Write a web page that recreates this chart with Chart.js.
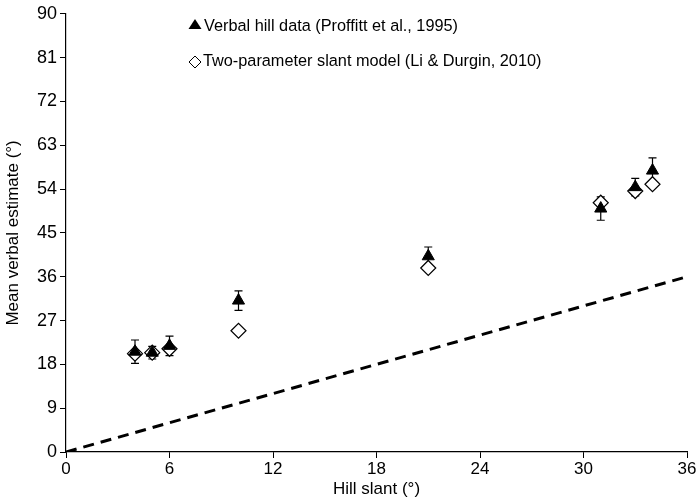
<!DOCTYPE html>
<html>
<head>
<meta charset="utf-8">
<script src="https://cdn.jsdelivr.net/npm/chart.js@4/dist/chart.umd.min.js"></script>
<style>
  html, body { margin: 0; padding: 0; background: #fff; }
  #wrap { width: 700px; height: 501px; }
</style>
</head>
<body>
<div id="wrap"><canvas id="chart" width="700" height="501"></canvas></div>
<script>
// hill slants and mean estimates
const slants = [4, 5, 6, 10, 21, 31, 33, 34];
const verbal = [20.6, 20.4, 21.8, 31.1, 40.2, 50.0, 54.4, 57.8];
const verbalErr = [2.4, 1.3, 2.0, 2.0, 1.9, 2.4, 1.8, 2.6];
const model = [20.2, 20.4, 21.2, 24.9, 37.8, 51.2, 53.6, 55.0];
const unityX = [0, 36];
const xTicks = [0, 6, 12, 18, 24, 30, 36];
const yTicks = [0, 9, 18, 27, 36, 45, 54, 63, 72, 81, 90];

const legendLabels = ['Verbal hill data (Proffitt et al., 1995)', 'Two-parameter slant model (Li & Durgin, 2010)'];

const fontFam = '"Liberation Sans", Arial, sans-serif';

// error bars drawn under the markers
const errorBars = {
    id: 'errorBars',
    beforeDatasetsDraw(chart) {
        const ctx = chart.ctx;
        const xs = chart.scales.x, ys = chart.scales.y;
        ctx.save();
        ctx.strokeStyle = '#000';
        ctx.lineWidth = 1.2;
        slants.forEach((s, i) => {
            const px = xs.getPixelForValue(s);
            const top = ys.getPixelForValue(verbal[i] + verbalErr[i]);
            const bot = ys.getPixelForValue(verbal[i] - verbalErr[i]);
            ctx.beginPath();
            ctx.moveTo(px, top); ctx.lineTo(px, bot);
            ctx.moveTo(px - 4, top); ctx.lineTo(px + 4, top);
            ctx.moveTo(px - 4, bot); ctx.lineTo(px + 4, bot);
            ctx.stroke();
        });
        ctx.restore();
    }
};

// legend inside the plot area
const innerLegend = {
    id: 'innerLegend',
    afterDraw(chart) {
        const ctx = chart.ctx;
        ctx.save();
        ctx.font = '16.3px ' + fontFam;
        ctx.fillStyle = '#000';
        ctx.textBaseline = 'middle';
        // triangle
        ctx.beginPath();
        ctx.moveTo(195, 19); ctx.lineTo(201.5, 29); ctx.lineTo(188.5, 29); ctx.closePath();
        ctx.fill();
        ctx.fillText(legendLabels[0], 204, 27);
        // diamond
        ctx.beginPath();
        ctx.moveTo(195, 56); ctx.lineTo(201, 62); ctx.lineTo(195, 68); ctx.lineTo(189, 62); ctx.closePath();
        ctx.fillStyle = '#fff';
        ctx.fill();
        ctx.strokeStyle = '#000';
        ctx.lineWidth = 1;
        ctx.stroke();
        ctx.fillStyle = '#000';
        ctx.fillText(legendLabels[1], 203, 62);
        ctx.restore();
    }
};

new Chart(document.getElementById('chart').getContext('2d'), {
    type: 'scatter',
    data: {
        datasets: [
            {
                label: legendLabels[0],
                data: slants.map((s, i) => ({ x: s, y: verbal[i] })),
                pointStyle: 'triangle',
                pointRadius: 7,
                backgroundColor: '#000',
                borderColor: '#000',
                borderWidth: 1
            },
            {
                label: legendLabels[1],
                data: slants.map((s, i) => ({ x: s, y: model[i] })),
                pointStyle: 'rectRot',
                pointRadius: 7.5,
                backgroundColor: '#fff',
                borderColor: '#000',
                borderWidth: 1.2
            },
            {
                label: 'unity',
                type: 'line',
                data: unityX.map(v => ({ x: v, y: v })),
                borderColor: '#000',
                borderWidth: 3,
                borderDash: [11, 7],
                pointRadius: 0,
                fill: false
            }
        ]
    },
    options: {
        responsive: false,
        animation: false,
        layout: { padding: { top: 7, right: 13, left: 0, bottom: 0 } },
        plugins: {
            legend: { display: false },
            tooltip: { enabled: false }
        },
        scales: {
            x: {
                type: 'linear',
                min: 0, max: 36,
                afterBuildTicks: (axis) => { axis.ticks = xTicks.map(v => ({ value: v })); },
                afterFit: (axis) => { axis.height = 49; },
                grid: { drawOnChartArea: false, tickLength: 6, color: '#000', tickColor: '#000' },
                border: { color: '#000', width: 1.2 },
                ticks: { color: '#000', font: { family: fontFam, size: 17 }, padding: 1 },
                title: { display: true, text: 'Hill slant (°)', color: '#000', font: { family: fontFam, size: 17 }, padding: { top: 0, bottom: 1 } }
            },
            y: {
                type: 'linear',
                min: 0, max: 90,
                afterBuildTicks: (axis) => { axis.ticks = yTicks.map(v => ({ value: v })); },
                afterFit: (axis) => { axis.width = 66; },
                grid: { drawOnChartArea: false, tickLength: 6, color: '#000', tickColor: '#000' },
                border: { color: '#000', width: 1.2 },
                ticks: { color: '#000', font: { family: fontFam, size: 18 }, padding: 3 },
                title: { display: true, text: 'Mean verbal estimate (°)', color: '#000', font: { family: fontFam, size: 17 }, padding: { top: 3, bottom: 0 } }
            }
        }
    },
    plugins: [errorBars, innerLegend]
});
</script>
</body>
</html>
